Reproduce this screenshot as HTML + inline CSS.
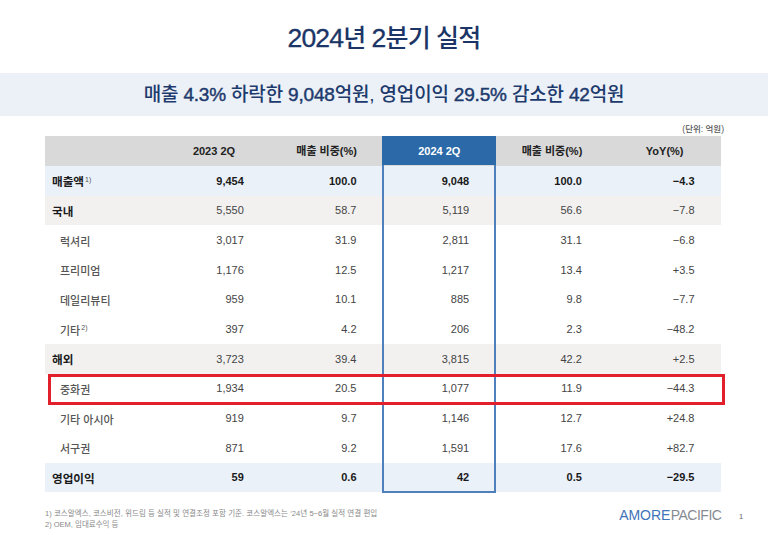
<!DOCTYPE html>
<html lang="ko"><head><meta charset="utf-8"><title>2024년 2분기 실적</title>
<style>
*{margin:0;padding:0;box-sizing:border-box}
html,body{width:768px;height:535px;overflow:hidden;background:#fff}
body{position:relative;font-family:"Liberation Sans","Noto Sans CJK KR",sans-serif;color:#222}
.abs{position:absolute}
.title{left:0;width:768px;top:21.7px;text-align:center;font-size:25px;line-height:32px;font-weight:500;color:#1b3566;letter-spacing:-0.8px}
.banner{left:0;top:73px;width:768px;height:43px;background:#ecf1f8}
.btext{left:0;width:768px;top:73px;height:43px;line-height:43px;text-align:center;font-size:19px;font-weight:500;color:#1d3a6c;letter-spacing:-0.18px}
.btext b{font-weight:400;-webkit-text-stroke:0.45px #1d3a6c}
.title i{font-style:normal;font-size:26.5px;-webkit-text-stroke:0.35px #1c3869}
.unit{right:44px;top:122px;font-size:8.5px;line-height:14px;color:#555;font-weight:500}
.row{left:45px;width:676px}
.cell{white-space:nowrap;font-size:11px;text-align:right}
.hd{font-size:11px;font-weight:700;color:#222;text-align:center;white-space:nowrap}
.lab{white-space:nowrap;font-size:11px}
sup{font-size:7px;vertical-align:0;position:relative;top:-4.5px;font-weight:400;margin-left:1px;color:#555}
.foot{left:45px;font-size:7.5px;color:#888;white-space:nowrap;line-height:10px}
</style></head><body>
<div class="abs title"><i>2024</i>년 <i>2</i>분기 실적</div>
<div class="abs banner"></div>
<div class="abs btext">매출 <b>4.3%</b> 하락한 <b>9,048</b>억원, 영업이익 <b>29.5%</b> 감소한 <b>42</b>억원</div>
<div class="abs unit">(단위: 억원)</div>

<div class="abs" style="left:45px;top:135.5px;width:676px;height:30.5px;background:#d9d9d9"></div>
<div class="abs row" style="top:166.00px;height:29.65px;background:#eaf1f9"></div>
<div class="abs row" style="top:195.65px;height:29.65px;background:#f2f1f0"></div>
<div class="abs row" style="top:225.30px;height:29.65px;background:#ffffff"></div>
<div class="abs row" style="top:254.95px;height:29.65px;background:#ffffff"></div>
<div class="abs row" style="top:284.60px;height:29.65px;background:#ffffff"></div>
<div class="abs row" style="top:314.25px;height:29.65px;background:#ffffff"></div>
<div class="abs row" style="top:343.90px;height:29.65px;background:#f2f1f0"></div>
<div class="abs row" style="top:373.55px;height:29.65px;background:#ffffff"></div>
<div class="abs row" style="top:403.20px;height:29.65px;background:#ffffff"></div>
<div class="abs row" style="top:432.85px;height:29.65px;background:#ffffff"></div>
<div class="abs row" style="top:462.50px;height:29.65px;background:#eaf1f9"></div>
<div class="abs" style="left:382px;top:135.5px;width:114px;height:29.5px;background:#2b69a8"></div>
<div class="abs" style="left:382px;top:165.0px;width:114px;height:327.75px;border:2px solid #5080bb;border-top:none"></div>
<div class="abs" style="left:48px;top:374.1px;width:677px;height:31.3px;border:3px solid #e2202b"></div>
<div class="abs hd" style="left:157.67px;width:112.67px;top:135.5px;height:30.5px;line-height:30.5px;color:#222">2023 2Q</div>
<div class="abs hd" style="left:270.33px;width:112.67px;top:135.5px;height:30.5px;line-height:30.5px;color:#222">매출 비중(%)</div>
<div class="abs hd" style="left:383.00px;width:112.67px;top:135.5px;height:30.5px;line-height:30.5px;color:#fff">2024 2Q</div>
<div class="abs hd" style="left:495.67px;width:112.67px;top:135.5px;height:30.5px;line-height:30.5px;color:#222">매출 비중(%)</div>
<div class="abs hd" style="left:608.33px;width:112.67px;top:135.5px;height:30.5px;line-height:30.5px;color:#222">YoY(%)</div>
<div class="abs lab" style="font-weight:700;color:#1a1a1a;left:52px;font-size:11.6px;top:167.20px;height:29.65px;line-height:29.65px">매출액<sup>1)</sup></div>
<div class="abs cell" style="font-weight:700;color:#1a1a1a;right:524.17px;top:166.80px;height:29.65px;line-height:29.65px">9,454</div>
<div class="abs cell" style="font-weight:700;color:#1a1a1a;right:411.50px;top:166.80px;height:29.65px;line-height:29.65px">100.0</div>
<div class="abs cell" style="font-weight:700;color:#1a1a1a;right:298.83px;top:166.80px;height:29.65px;line-height:29.65px">9,048</div>
<div class="abs cell" style="font-weight:700;color:#1a1a1a;right:186.17px;top:166.80px;height:29.65px;line-height:29.65px">100.0</div>
<div class="abs cell" style="font-weight:700;color:#1a1a1a;right:73.50px;top:166.80px;height:29.65px;line-height:29.65px">−4.3</div>
<div class="abs lab" style="font-weight:700;color:#1a1a1a;left:52px;font-size:11.6px;top:196.85px;height:29.65px;line-height:29.65px">국내</div>
<div class="abs cell" style="font-weight:400;color:#444;right:524.17px;top:196.45px;height:29.65px;line-height:29.65px">5,550</div>
<div class="abs cell" style="font-weight:400;color:#444;right:411.50px;top:196.45px;height:29.65px;line-height:29.65px">58.7</div>
<div class="abs cell" style="font-weight:400;color:#444;right:298.83px;top:196.45px;height:29.65px;line-height:29.65px">5,119</div>
<div class="abs cell" style="font-weight:400;color:#444;right:186.17px;top:196.45px;height:29.65px;line-height:29.65px">56.6</div>
<div class="abs cell" style="font-weight:400;color:#444;right:73.50px;top:196.45px;height:29.65px;line-height:29.65px">−7.8</div>
<div class="abs lab" style="font-weight:500;color:#555;left:60px;top:227.60px;height:29.65px;line-height:29.65px">럭셔리</div>
<div class="abs cell" style="font-weight:400;color:#444;right:524.17px;top:226.10px;height:29.65px;line-height:29.65px">3,017</div>
<div class="abs cell" style="font-weight:400;color:#444;right:411.50px;top:226.10px;height:29.65px;line-height:29.65px">31.9</div>
<div class="abs cell" style="font-weight:400;color:#444;right:298.83px;top:226.10px;height:29.65px;line-height:29.65px">2,811</div>
<div class="abs cell" style="font-weight:400;color:#444;right:186.17px;top:226.10px;height:29.65px;line-height:29.65px">31.1</div>
<div class="abs cell" style="font-weight:400;color:#444;right:73.50px;top:226.10px;height:29.65px;line-height:29.65px">−6.8</div>
<div class="abs lab" style="font-weight:500;color:#555;left:60px;top:257.25px;height:29.65px;line-height:29.65px">프리미엄</div>
<div class="abs cell" style="font-weight:400;color:#444;right:524.17px;top:255.75px;height:29.65px;line-height:29.65px">1,176</div>
<div class="abs cell" style="font-weight:400;color:#444;right:411.50px;top:255.75px;height:29.65px;line-height:29.65px">12.5</div>
<div class="abs cell" style="font-weight:400;color:#444;right:298.83px;top:255.75px;height:29.65px;line-height:29.65px">1,217</div>
<div class="abs cell" style="font-weight:400;color:#444;right:186.17px;top:255.75px;height:29.65px;line-height:29.65px">13.4</div>
<div class="abs cell" style="font-weight:400;color:#444;right:73.50px;top:255.75px;height:29.65px;line-height:29.65px">+3.5</div>
<div class="abs lab" style="font-weight:500;color:#555;left:60px;top:286.90px;height:29.65px;line-height:29.65px">데일리뷰티</div>
<div class="abs cell" style="font-weight:400;color:#444;right:524.17px;top:285.40px;height:29.65px;line-height:29.65px">959</div>
<div class="abs cell" style="font-weight:400;color:#444;right:411.50px;top:285.40px;height:29.65px;line-height:29.65px">10.1</div>
<div class="abs cell" style="font-weight:400;color:#444;right:298.83px;top:285.40px;height:29.65px;line-height:29.65px">885</div>
<div class="abs cell" style="font-weight:400;color:#444;right:186.17px;top:285.40px;height:29.65px;line-height:29.65px">9.8</div>
<div class="abs cell" style="font-weight:400;color:#444;right:73.50px;top:285.40px;height:29.65px;line-height:29.65px">−7.7</div>
<div class="abs lab" style="font-weight:500;color:#555;left:60px;top:316.55px;height:29.65px;line-height:29.65px">기타<sup>2)</sup></div>
<div class="abs cell" style="font-weight:400;color:#444;right:524.17px;top:315.05px;height:29.65px;line-height:29.65px">397</div>
<div class="abs cell" style="font-weight:400;color:#444;right:411.50px;top:315.05px;height:29.65px;line-height:29.65px">4.2</div>
<div class="abs cell" style="font-weight:400;color:#444;right:298.83px;top:315.05px;height:29.65px;line-height:29.65px">206</div>
<div class="abs cell" style="font-weight:400;color:#444;right:186.17px;top:315.05px;height:29.65px;line-height:29.65px">2.3</div>
<div class="abs cell" style="font-weight:400;color:#444;right:73.50px;top:315.05px;height:29.65px;line-height:29.65px">−48.2</div>
<div class="abs lab" style="font-weight:700;color:#1a1a1a;left:52px;font-size:11.6px;top:345.10px;height:29.65px;line-height:29.65px">해외</div>
<div class="abs cell" style="font-weight:400;color:#444;right:524.17px;top:344.70px;height:29.65px;line-height:29.65px">3,723</div>
<div class="abs cell" style="font-weight:400;color:#444;right:411.50px;top:344.70px;height:29.65px;line-height:29.65px">39.4</div>
<div class="abs cell" style="font-weight:400;color:#444;right:298.83px;top:344.70px;height:29.65px;line-height:29.65px">3,815</div>
<div class="abs cell" style="font-weight:400;color:#444;right:186.17px;top:344.70px;height:29.65px;line-height:29.65px">42.2</div>
<div class="abs cell" style="font-weight:400;color:#444;right:73.50px;top:344.70px;height:29.65px;line-height:29.65px">+2.5</div>
<div class="abs lab" style="font-weight:500;color:#555;left:60px;top:375.85px;height:29.65px;line-height:29.65px">중화권</div>
<div class="abs cell" style="font-weight:400;color:#444;right:524.17px;top:374.35px;height:29.65px;line-height:29.65px">1,934</div>
<div class="abs cell" style="font-weight:400;color:#444;right:411.50px;top:374.35px;height:29.65px;line-height:29.65px">20.5</div>
<div class="abs cell" style="font-weight:400;color:#444;right:298.83px;top:374.35px;height:29.65px;line-height:29.65px">1,077</div>
<div class="abs cell" style="font-weight:400;color:#444;right:186.17px;top:374.35px;height:29.65px;line-height:29.65px">11.9</div>
<div class="abs cell" style="font-weight:400;color:#444;right:73.50px;top:374.35px;height:29.65px;line-height:29.65px">−44.3</div>
<div class="abs lab" style="font-weight:500;color:#555;left:60px;top:405.50px;height:29.65px;line-height:29.65px">기타 아시아</div>
<div class="abs cell" style="font-weight:400;color:#444;right:524.17px;top:404.00px;height:29.65px;line-height:29.65px">919</div>
<div class="abs cell" style="font-weight:400;color:#444;right:411.50px;top:404.00px;height:29.65px;line-height:29.65px">9.7</div>
<div class="abs cell" style="font-weight:400;color:#444;right:298.83px;top:404.00px;height:29.65px;line-height:29.65px">1,146</div>
<div class="abs cell" style="font-weight:400;color:#444;right:186.17px;top:404.00px;height:29.65px;line-height:29.65px">12.7</div>
<div class="abs cell" style="font-weight:400;color:#444;right:73.50px;top:404.00px;height:29.65px;line-height:29.65px">+24.8</div>
<div class="abs lab" style="font-weight:500;color:#555;left:60px;top:435.15px;height:29.65px;line-height:29.65px">서구권</div>
<div class="abs cell" style="font-weight:400;color:#444;right:524.17px;top:433.65px;height:29.65px;line-height:29.65px">871</div>
<div class="abs cell" style="font-weight:400;color:#444;right:411.50px;top:433.65px;height:29.65px;line-height:29.65px">9.2</div>
<div class="abs cell" style="font-weight:400;color:#444;right:298.83px;top:433.65px;height:29.65px;line-height:29.65px">1,591</div>
<div class="abs cell" style="font-weight:400;color:#444;right:186.17px;top:433.65px;height:29.65px;line-height:29.65px">17.6</div>
<div class="abs cell" style="font-weight:400;color:#444;right:73.50px;top:433.65px;height:29.65px;line-height:29.65px">+82.7</div>
<div class="abs lab" style="font-weight:700;color:#1a1a1a;left:52px;font-size:11.6px;top:463.70px;height:29.65px;line-height:29.65px">영업이익</div>
<div class="abs cell" style="font-weight:700;color:#1a1a1a;right:524.17px;top:463.30px;height:29.65px;line-height:29.65px">59</div>
<div class="abs cell" style="font-weight:700;color:#1a1a1a;right:411.50px;top:463.30px;height:29.65px;line-height:29.65px">0.6</div>
<div class="abs cell" style="font-weight:700;color:#1a1a1a;right:298.83px;top:463.30px;height:29.65px;line-height:29.65px">42</div>
<div class="abs cell" style="font-weight:700;color:#1a1a1a;right:186.17px;top:463.30px;height:29.65px;line-height:29.65px">0.5</div>
<div class="abs cell" style="font-weight:700;color:#1a1a1a;right:73.50px;top:463.30px;height:29.65px;line-height:29.65px">−29.5</div>
<div class="abs foot" style="top:509px;letter-spacing:0.05px">1) 코스알엑스, 코스비전, 위드림 등 실적 및 연결조정 포함 기준. 코스알엑스는 ‘24년 5~6월 실적 연결 편입</div>
<div class="abs foot" style="top:520px">2) OEM, 임대료수익 등</div>
<div class="abs" style="left:619.3px;top:506px;font-size:14px;line-height:18px;white-space:nowrap"><span style="color:#3f74b8;letter-spacing:-0.1px">AMORE</span><span style="color:#868b93;margin-left:0.6px;letter-spacing:-0.5px">PACIFIC</span></div>
<div class="abs" style="left:739px;top:512.6px;font-size:7.5px;line-height:8px;color:#666">1</div>
</body></html>
